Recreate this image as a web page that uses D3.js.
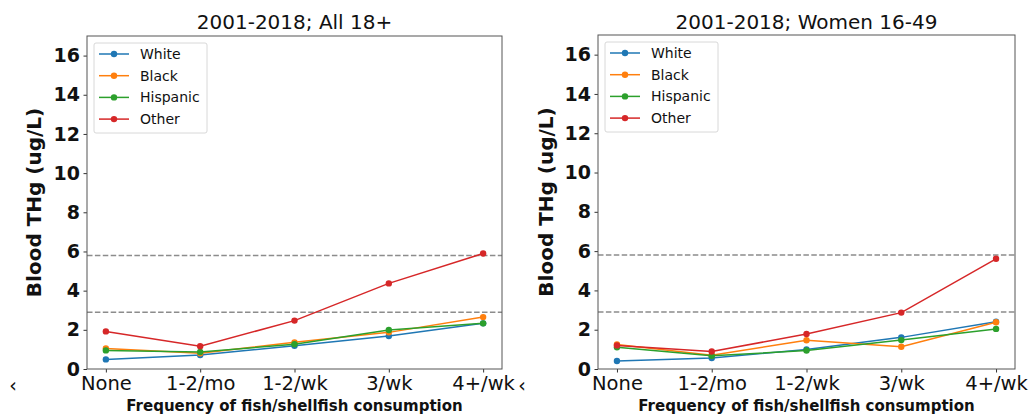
<!DOCTYPE html>
<html>
<head>
<meta charset="utf-8">
<script src="https://cdn.jsdelivr.net/npm/d3@7"></script>
<style>
  body { margin: 0; background: #fff; }
  text { font-family: "DejaVu Sans", sans-serif; }
</style>
</head>
<body>
<div id="chart"></div>
<script>
// categories and series
var categories = ["None", "1-2/mo", "1-2/wk", "3/wk", "4+/wk"];
var groups = ["White", "Black", "Hispanic", "Other"];
var colors = ["#1f77b4", "#ff7f0e", "#2ca02c", "#d62728"];
var yTicks = [0, 2, 4, 6, 8, 10, 12, 14, 16];
var refLines = [5.8, 2.9];

// All 18+
var allWhite    = [0.49, 0.71, 1.19, 1.68, 2.33];
var allBlack    = [1.05, 0.80, 1.36, 1.87, 2.65];
var allHispanic = [0.95, 0.87, 1.26, 1.99, 2.33];
var allOther    = [1.92, 1.16, 2.47, 4.37, 5.90];

// Women 16-49
var womenWhite    = [0.41, 0.56, 0.99, 1.61, 2.41];
var womenBlack    = [1.25, 0.70, 1.46, 1.13, 2.38];
var womenHispanic = [1.11, 0.67, 0.94, 1.47, 2.04];
var womenOther    = [1.20, 0.89, 1.78, 2.87, 5.61];

var w = 1029;
var h = 415;

var svg = d3.select("#chart")
  .append("svg")
  .attr("width", w)
  .attr("height", h);

var panels = [
  { title: "2001-2018; All 18+", left: 87, right: 502, top: 36, bottom: 369, ylab: 41, mark: 13,
    series: [allWhite, allBlack, allHispanic, allOther] },
  { title: "2001-2018; Women 16-49", left: 598, right: 1015, top: 35, bottom: 369, ylab: 553, mark: 522,
    series: [womenWhite, womenBlack, womenHispanic, womenOther] }
];

panels.forEach(function (p) {
  var x = d3.scaleLinear().domain([-0.2, 4.2]).range([p.left, p.right]);
  var y = d3.scaleLinear().domain([0, 17]).range([p.bottom, p.top]);
  var g = svg.append("g");

  // reference dashed lines
  g.selectAll("line.ref")
    .data(refLines)
    .enter().append("line")
    .attr("x1", p.left)
    .attr("x2", p.right)
    .attr("y1", function (d) { return y(d); })
    .attr("y2", function (d) { return y(d); })
    .attr("stroke", "#8c8c8c")
    .attr("stroke-width", 1.5)
    .attr("stroke-dasharray", "5.5,2.4");

  // lines + markers
  var line = d3.line()
    .x(function (d, i) { return x(i); })
    .y(function (d) { return y(d); });

  p.series.forEach(function (vals, k) {
    g.append("path")
      .datum(vals)
      .attr("d", line)
      .attr("fill", "none")
      .attr("stroke", colors[k])
      .attr("stroke-width", 1.5);
    g.selectAll("circle.s" + k)
      .data(vals)
      .enter().append("circle")
      .attr("cx", function (d, i) { return x(i); })
      .attr("cy", function (d) { return y(d); })
      .attr("r", 3.2)
      .attr("fill", colors[k]);
  });

  // axes
  var xAxis = d3.axisBottom(x)
    .tickValues(d3.range(categories.length))
    .tickFormat(function (d) { return categories[d]; })
    .tickSize(3.5)
    .tickPadding(3.5);
  var gx = g.append("g")
    .attr("transform", "translate(0," + p.bottom + ")")
    .call(xAxis);
  gx.select(".domain").remove();
  gx.selectAll("line").attr("stroke", "#333");
  gx.selectAll("text")
    .attr("font-size", "19.5px")
    .attr("fill", "#111");

  var yAxis = d3.axisLeft(y)
    .tickValues(yTicks)
    .tickSize(3.5)
    .tickPadding(3.5);
  var gy = g.append("g")
    .attr("transform", "translate(" + p.left + ",0)")
    .call(yAxis);
  gy.select(".domain").remove();
  gy.selectAll("line").attr("stroke", "#333");
  gy.selectAll("text")
    .attr("font-size", "19px")
    .attr("font-weight", "bold")
    .attr("fill", "#111");

  // frame
  g.append("rect")
    .attr("x", p.left)
    .attr("y", p.top)
    .attr("width", p.right - p.left)
    .attr("height", p.bottom - p.top)
    .attr("fill", "none")
    .attr("stroke", "#555")
    .attr("stroke-width", 1);

  // titles
  g.append("text")
    .attr("x", (p.left + p.right) / 2)
    .attr("y", 29)
    .attr("text-anchor", "middle")
    .attr("font-size", "20px")
    .attr("fill", "#111")
    .text(p.title);

  g.append("text")
    .attr("x", (p.left + p.right) / 2)
    .attr("y", 411)
    .attr("text-anchor", "middle")
    .attr("font-size", "15px")
    .attr("font-weight", "bold")
    .attr("fill", "#111")
    .text("Frequency of fish/shellfish consumption");

  g.append("text")
    .attr("transform", "translate(" + p.ylab + "," + ((p.top + p.bottom) / 2) + ") rotate(-90)")
    .attr("text-anchor", "middle")
    .attr("font-size", "20px")
    .attr("font-weight", "bold")
    .attr("fill", "#111")
    .text("Blood THg (ug/L)");

  g.append("text")
    .attr("x", p.mark)
    .attr("y", 392)
    .attr("text-anchor", "middle")
    .attr("font-size", "19px")
    .attr("fill", "#111")
    .text("‹");

  // legend
  var lg = g.append("g")
    .attr("transform", "translate(" + (p.left + 7) + "," + (p.top + 7) + ")");
  lg.append("rect")
    .attr("width", 113)
    .attr("height", 90)
    .attr("rx", 2)
    .attr("fill", "#fff")
    .attr("fill-opacity", 0.8)
    .attr("stroke", "#d8d8d8");
  var item = lg.selectAll("g.item")
    .data(groups)
    .enter().append("g")
    .attr("transform", function (d, i) { return "translate(0," + (11 + i * 21.7) + ")"; });
  item.append("line")
    .attr("x1", 5).attr("x2", 35)
    .attr("stroke", function (d, i) { return colors[i]; })
    .attr("stroke-width", 1.5);
  item.append("circle")
    .attr("cx", 20)
    .attr("r", 3.2)
    .attr("fill", function (d, i) { return colors[i]; });
  item.append("text")
    .attr("x", 46)
    .attr("dy", "0.35em")
    .attr("font-size", "14px")
    .attr("fill", "#111")
    .text(function (d) { return d; });
});
</script>
</body>
</html>
